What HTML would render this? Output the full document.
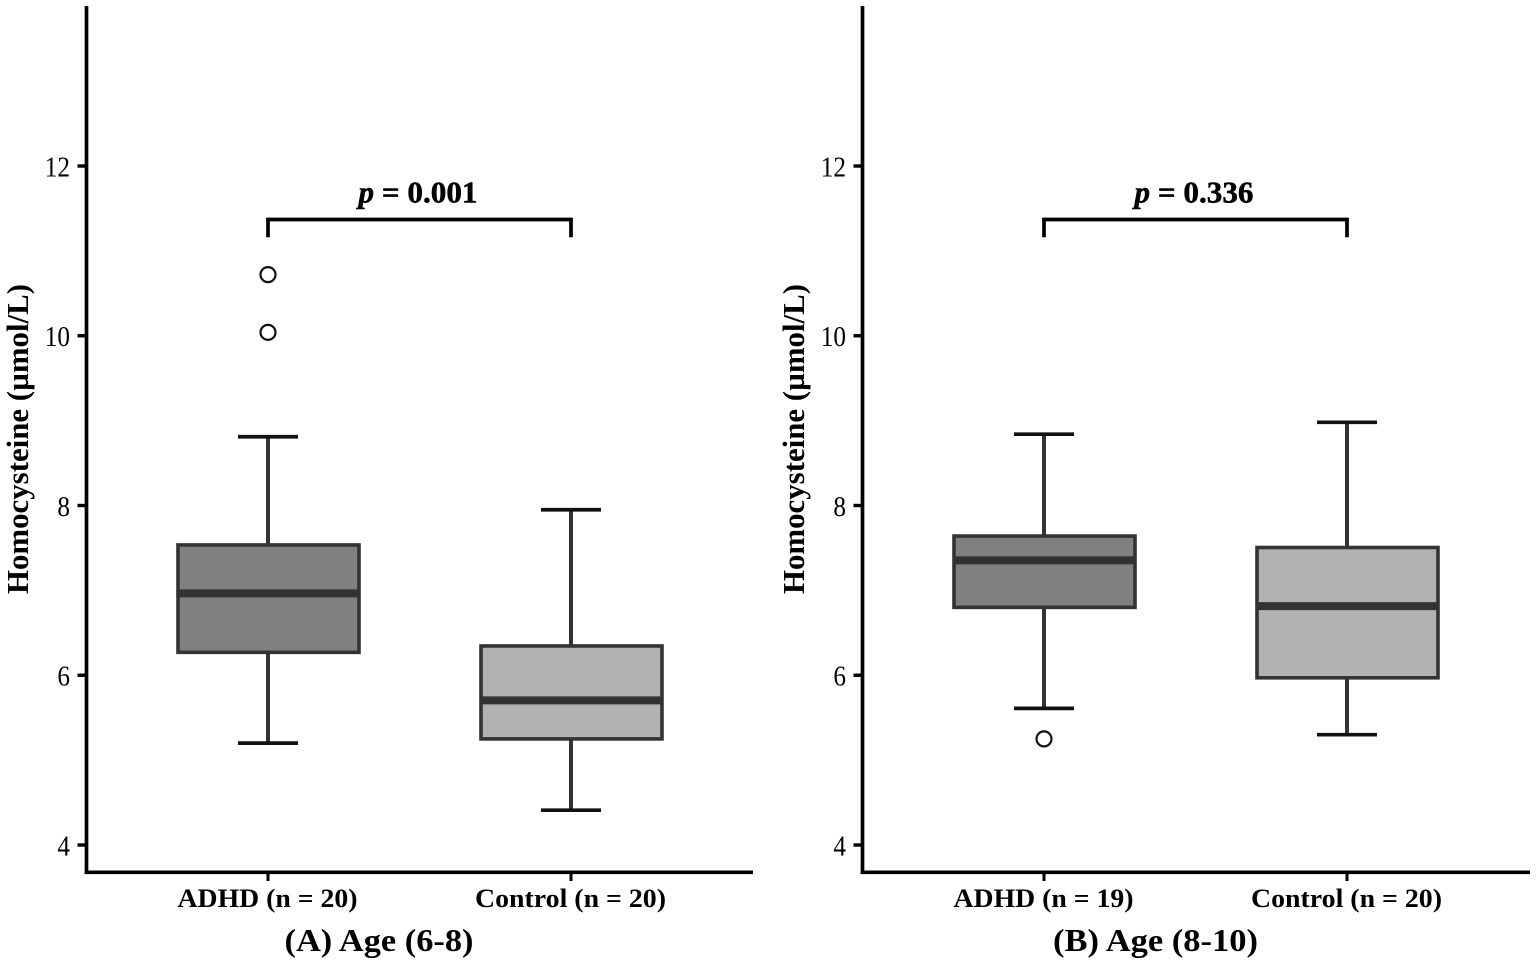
<!DOCTYPE html>
<html>
<head>
<meta charset="utf-8">
<title>Homocysteine by age group</title>
<style>
html,body{margin:0;padding:0;background:#fff;width:1537px;height:965px;overflow:hidden}
svg{display:block}
text{font-family:"Liberation Serif",serif;fill:#000}
</style>
</head>
<body>
<svg id="chart" width="1537" height="965" viewBox="0 0 1537 965" xmlns="http://www.w3.org/2000/svg"></svg>
<script>
const yTicks = [4, 6, 8, 10, 12];
const yAxisTitle = "Homocysteine (µmol/L)";

const panelTitles = ["(A) Age (6-8)", "(B) Age (8-10)"];
const pValues = ["0.001", "0.336"];
const categoriesA = ["ADHD (n = 20)", "Control (n = 20)"];
const categoriesB = ["ADHD (n = 19)", "Control (n = 20)"];

const lowA = [5.20, 4.41];
const q1A = [6.27, 5.25];
const medianA = [6.97, 5.71];
const q3A = [7.535, 6.345];
const highA = [8.81, 7.95];
const outliersA = [[10.72, 10.04], []];

const lowB = [5.61, 5.30];
const q1B = [6.80, 5.97];
const medianB = [7.36, 6.82];
const q3B = [7.64, 7.505];
const highB = [8.84, 8.98];
const outliersB = [[5.25], []];

const bracketValue = 11.37;
const bracketDrop = 11.16;

const svg = document.getElementById('chart');
const NS = 'http://www.w3.org/2000/svg';

function yScale(v) { return 845 - (v - 4) * 84.875; }
function xScale(originX, i) { return originX + 182 + i * 303; }

function mk(tag, attrs, parent, text) {
  const el = document.createElementNS(NS, tag);
  for (const k in attrs) el.setAttribute(k, attrs[k]);
  if (text !== undefined) el.textContent = text;
  parent.appendChild(el);
  return el;
}

function line(parent, x1, y1, x2, y2, stroke, w) {
  return mk('line', {x1: x1, y1: y1, x2: x2, y2: y2, stroke: stroke, 'stroke-width': w}, parent);
}

function drawPanel(originX, rightX, cats, low, q1, med, q3, high, outliers, title, pval) {
  const g = mk('g', {}, svg);
  
  

  const yAxis = line(g, originX + 0.5, 6, originX + 0.5, 874, '#000', 3.7);
  
  

  const xAxis = line(g, originX - 1.3, 872.3, rightX, 872.3, '#000', 3.7);
  
  

  yTicks.forEach(function (t) {
    const y = yScale(t);
    const tick = line(g, originX - 8.5, y, originX, y, '#000', 3.4);
    
    
    const label = String(t);
    const lab = mk('text', {x: originX - 16, y: y + 10.3, 'text-anchor': 'end', 'font-size': 29,
      textLength: label.length * 12.6, lengthAdjust: 'spacingAndGlyphs', fill: '#222'}, g, label);
    
    
  });

  const ytitle = mk('text', {
    transform: 'translate(' + (originX - 58) + ',439) rotate(-90)',
    'text-anchor': 'middle', 'font-size': 31, 'font-weight': 'bold',
    textLength: 310, lengthAdjust: 'spacingAndGlyphs'
  }, g, yAxisTitle);
  
  

  cats.forEach(function (c, i) {
    const x = xScale(originX, i);
    const tick = line(g, x, 872, x, 881, '#000', 3);
    
    
    const lab = mk('text', {x: x - 0.5, y: 907, 'text-anchor': 'middle', 'font-size': 26, 'font-weight': 'bold',
      textLength: i === 0 ? 180 : 191, lengthAdjust: 'spacingAndGlyphs'}, g, c);
    
    

    const whisker = line(g, x, yScale(high[i]), x, yScale(low[i]), '#333', 4);
    
    

    const capHigh = line(g, x - 30, yScale(high[i]), x + 30, yScale(high[i]), '#111', 3.7);
    
    

    const capLow = line(g, x - 30, yScale(low[i]), x + 30, yScale(low[i]), '#111', 3.7);
    
    

    const box = mk('rect', {
      x: x - 90, y: yScale(q3[i]), width: 181, height: yScale(q1[i]) - yScale(q3[i]),
      fill: i === 0 ? '#808080' : '#b2b2b2', stroke: '#333', 'stroke-width': 3.6
    }, g);
    
    

    const median = line(g, x - 90, yScale(med[i]) + 0.5, x + 91, yScale(med[i]) + 0.5, '#333', 8);
    
    

    outliers[i].forEach(function (o) {
      const pt = mk('circle', {cx: x, cy: yScale(o), r: 7.5, fill: '#fff', stroke: '#111', 'stroke-width': 2.2}, g);
      
      
    });
  });

  const x0 = xScale(originX, 0), x1 = xScale(originX, 1);
  const by = yScale(bracketValue), bd = yScale(bracketDrop);
  const bracket = mk('polyline', {
    points: x0 + ',' + bd + ' ' + x0 + ',' + by + ' ' + x1 + ',' + by + ' ' + x1 + ',' + bd,
    fill: 'none', stroke: '#000', 'stroke-width': 3.7
  }, g);
  
  

  const p = mk('text', {x: (x0 + x1) / 2 - 1.5, y: 202.3, 'text-anchor': 'middle', 'font-size': 31, 'font-weight': 'bold',
    stroke: '#000', 'stroke-width': 0.5, textLength: 119, lengthAdjust: 'spacingAndGlyphs'}, g);
  
  
  mk('tspan', {'font-style': 'italic'}, p, 'p');
  mk('tspan', {}, p, ' = ' + pval);

  const t = mk('text', {x: (x0 + x1) / 2 - (originX > 500 ? 40 : 40.5), y: 951, 'text-anchor': 'middle', 'font-size': 32, 'font-weight': 'bold',
    textLength: originX > 500 ? 205 : 189, lengthAdjust: 'spacingAndGlyphs'}, g, title);
  
  
}

drawPanel(86, 753, categoriesA, lowA, q1A, medianA, q3A, highA, outliersA, panelTitles[0], pValues[0]);
drawPanel(862, 1530, categoriesB, lowB, q1B, medianB, q3B, highB, outliersB, panelTitles[1], pValues[1]);
</script>
</body>
</html>
